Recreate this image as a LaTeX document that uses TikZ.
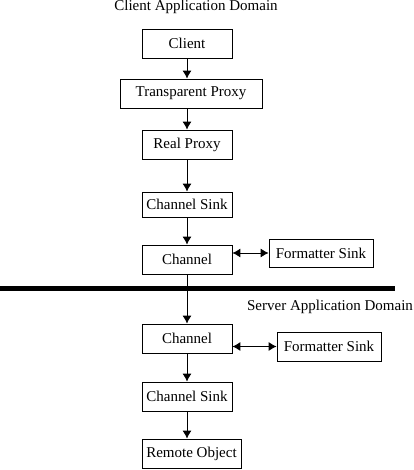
\documentclass[tikz,border=0pt]{standalone}
\usepackage{fontspec}
\setmainfont{Liberation Serif}
\usetikzlibrary{arrows.meta}
\tikzset{
	box/.style = {draw, line width=0.8pt, minimum width=90pt, minimum height=29pt, inner sep=0pt},
	flow/.style = {-{Latex[length=8pt, width=9pt]}, line width=0.9pt},
	both/.style = {{Latex[length=8pt, width=9pt]}-{Latex[length=8pt, width=9pt]}, line width=0.9pt}
}

\begin{document}
\begin{tikzpicture}[x=1pt, y=-1pt, font=\fontsize{15}{18}\selectfont]
			\useasboundingbox (0,0) rectangle (413,470);
			\node (clientdom) at (196,7) {Client Application Domain};
			\node (serverdom) at (330,307) {Server Application Domain};
			% client side
			\node[box] (client) at (187,43.5) {Client};
			\node[box, minimum width=142pt] (tproxy) at (191,93.5) {Transparent Proxy};
			\node[box] (rproxy) at (187,144.5) {Real Proxy};
			\node[box, minimum height=25pt] (csink) at (187,204.5) {Channel Sink};
			\node[box] (chan) at (187,259.5) {Channel};
			\node[box, minimum width=104pt, minimum height=28pt] (fsink) at (321,253) {Formatter Sink};
			% server side
			\node[box] (schan) at (187,338.5) {Channel};
			\node[box, minimum width=104pt] (sfsink) at (329,346.5) {Formatter Sink};
			\node[box] (ssink) at (187,396.5) {Channel Sink};
			\node[box, minimum width=99pt] (robj) at (191.5,453.5) {Remote Object};
			\draw[line width=5pt] (0,288) -- (395,288);
			\draw[flow] (client) -- (client |- tproxy.north);
			\draw[flow] (client |- tproxy.south) -- (rproxy);
			\draw[flow] (rproxy) -- (csink);
			\draw[flow] (csink) -- (chan);
			\draw[flow] (chan) -- (schan);
			\draw[flow] (schan) -- (ssink);
			\draw[flow] (ssink) -- (ssink |- robj.north);
			\draw[both] (fsink.west -| chan.east) -- (fsink.west);
			\draw[both] (sfsink.west -| schan.east) -- (sfsink.west);
		\end{tikzpicture}
\end{document}
